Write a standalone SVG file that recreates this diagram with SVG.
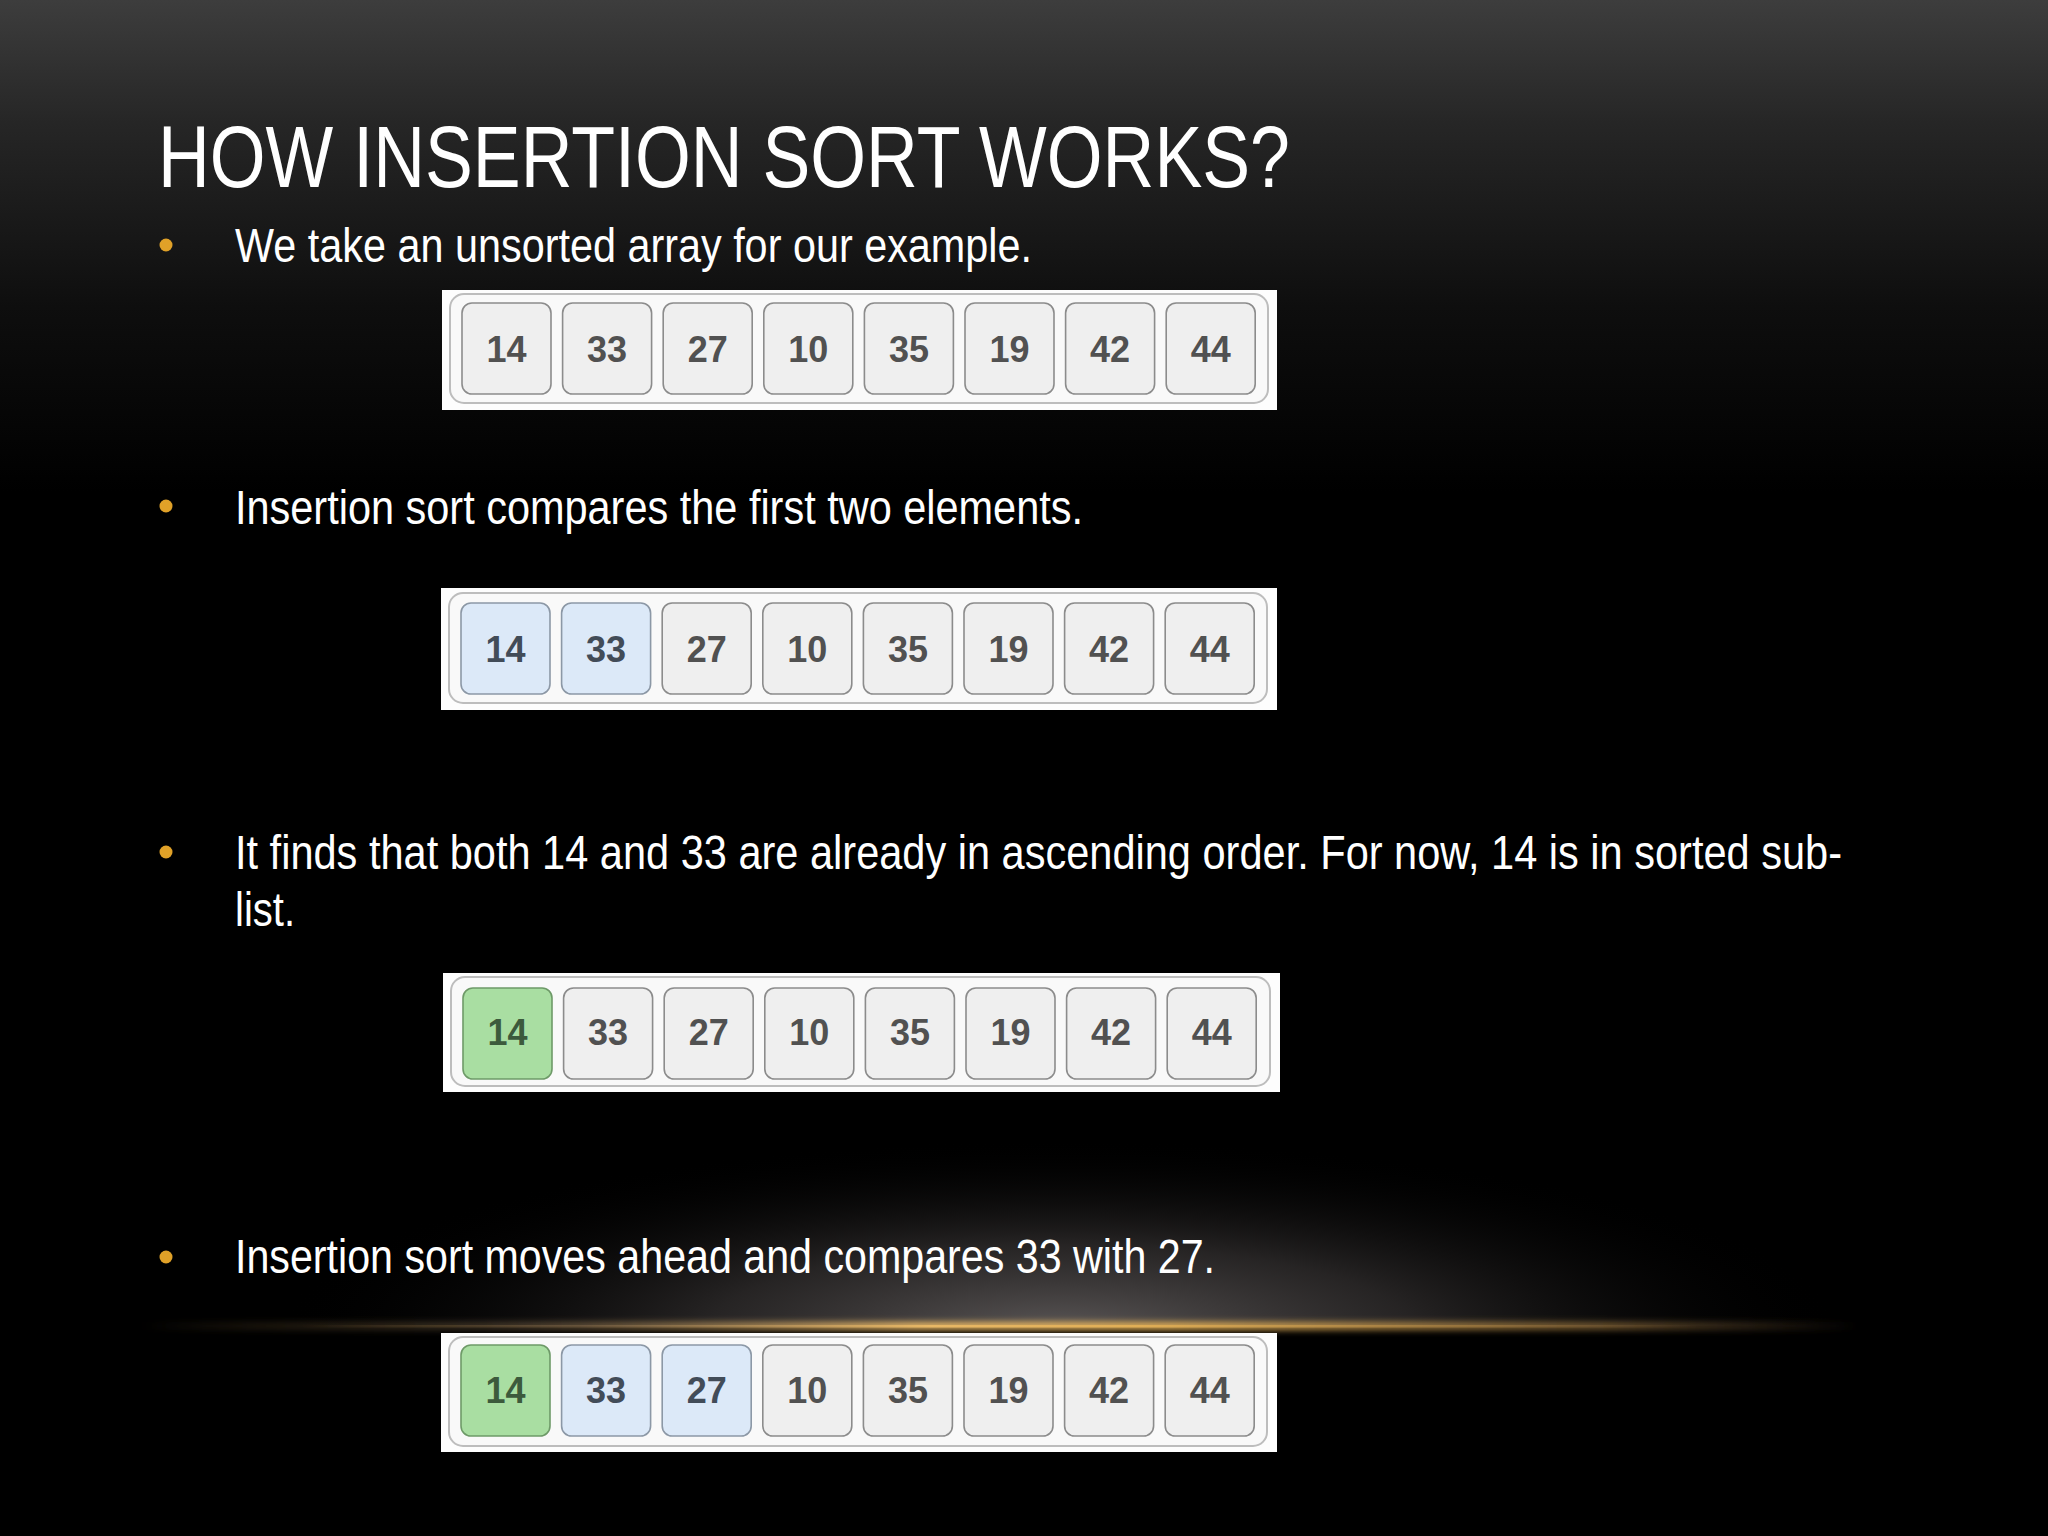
<svg xmlns="http://www.w3.org/2000/svg" width="2048" height="1536" viewBox="0 0 2048 1536">
  <defs>
    <linearGradient id="bg" x1="0" y1="0" x2="0" y2="1">
      <stop offset="0" stop-color="#3d3d3d"/>
      <stop offset="0.08" stop-color="#262626"/>
      <stop offset="0.2" stop-color="#0e0e0e"/>
      <stop offset="0.32" stop-color="#000000"/>
      <stop offset="1" stop-color="#000000"/>
    </linearGradient>
    <radialGradient id="haze" cx="0.5" cy="0.5" r="0.5">
      <stop offset="0" stop-color="#5a5656" stop-opacity="1"/>
      <stop offset="0.45" stop-color="#333030" stop-opacity="0.75"/>
      <stop offset="1" stop-color="#000000" stop-opacity="0"/>
    </radialGradient>
    <linearGradient id="line" x1="0" y1="0" x2="1" y2="0">
      <stop offset="0" stop-color="#c89a50" stop-opacity="0"/>
      <stop offset="0.2" stop-color="#8a7050" stop-opacity="0.4"/>
      <stop offset="0.45" stop-color="#e8b866" stop-opacity="1"/>
      <stop offset="0.6" stop-color="#e0ae56" stop-opacity="1"/>
      <stop offset="0.85" stop-color="#a07a40" stop-opacity="0.65"/>
      <stop offset="1" stop-color="#806040" stop-opacity="0"/>
    </linearGradient>
    <filter id="blur" x="-10%" y="-300%" width="120%" height="700%">
      <feGaussianBlur stdDeviation="3"/>
    </filter>
    <clipPath id="aboveLine">
      <rect x="0" y="0" width="2048" height="1326"/>
    </clipPath>
  </defs>
  <style>
    .title { font-family: "Liberation Sans", Arial, sans-serif; font-size: 87px; fill: #ffffff; }
    .body { font-family: "Liberation Sans", Arial, sans-serif; font-size: 48px; fill: #ffffff; }
    .dot { fill: #e0a128; }
    .frame { fill: #fdfdfd; }
    .inner { fill: #f9f9f9; stroke: #bdbdbd; stroke-width: 2; }
    .cell { fill: #efefef; stroke: #8c8c8c; stroke-width: 1.6; }
    .cell.blue { fill: #dce9f8; stroke: #8c98a6; }
    .cell.green { fill: #a9dea2; stroke: #6e9a68; }
    .num { font-family: "Liberation Sans", Arial, sans-serif; font-size: 36px; font-weight: bold; fill: #515151; text-anchor: middle; }
    .num.g { fill: #3c5a3c; }
    .num.b { fill: #424c58; }
  </style>

  <rect x="0" y="0" width="2048" height="1536" fill="url(#bg)"/>
  <g clip-path="url(#aboveLine)">
    <ellipse cx="1060" cy="1330" rx="780" ry="190" fill="url(#haze)"/>
  </g>
  <rect x="140" y="1322" width="1720" height="8" fill="url(#line)" filter="url(#blur)"/>
  <rect x="300" y="1325" width="1400" height="2.5" fill="url(#line)"/>

  <text class="title" x="158" y="187" textLength="1132" lengthAdjust="spacingAndGlyphs">HOW INSERTION SORT WORKS?</text>

  <g id="bullet1">
    <circle class="dot" cx="166" cy="245" r="6.5"/>
    <text class="body" x="235" y="262" textLength="797" lengthAdjust="spacingAndGlyphs">We take an unsorted array for our example.</text>
  </g>
  <g id="bullet2">
    <circle class="dot" cx="166" cy="506" r="6.5"/>
    <text class="body" x="235" y="524" textLength="848" lengthAdjust="spacingAndGlyphs">Insertion sort compares the first two elements.</text>
  </g>
  <g id="bullet3">
    <circle class="dot" cx="166" cy="852" r="6.5"/>
    <text class="body" x="235" y="869" textLength="1607" lengthAdjust="spacingAndGlyphs">It finds that both 14 and 33 are already in ascending order. For now, 14 is in sorted sub-</text>
    <text class="body" x="235" y="926" textLength="60" lengthAdjust="spacingAndGlyphs">list.</text>
  </g>
  <g id="bullet4">
    <circle class="dot" cx="166" cy="1257" r="6.5"/>
    <text class="body" x="235" y="1273" textLength="980" lengthAdjust="spacingAndGlyphs">Insertion sort moves ahead and compares 33 with 27.</text>
  </g>

  <!-- Array 1 -->
  <g id="array1" transform="translate(442,290)">
    <rect class="frame" x="0" y="0" width="835" height="120"/>
    <rect class="inner" x="8" y="4" width="818" height="109" rx="14"/>
    <g transform="translate(20,13)">
      <rect class="cell" x="0" y="0" width="89" height="91" rx="10"/><text class="num" x="44.5" y="59">14</text>
      <rect class="cell" x="100.6" y="0" width="89" height="91" rx="10"/><text class="num" x="145.1" y="59">33</text>
      <rect class="cell" x="201.2" y="0" width="89" height="91" rx="10"/><text class="num" x="245.7" y="59">27</text>
      <rect class="cell" x="301.8" y="0" width="89" height="91" rx="10"/><text class="num" x="346.3" y="59">10</text>
      <rect class="cell" x="402.4" y="0" width="89" height="91" rx="10"/><text class="num" x="446.9" y="59">35</text>
      <rect class="cell" x="503" y="0" width="89" height="91" rx="10"/><text class="num" x="547.5" y="59">19</text>
      <rect class="cell" x="603.6" y="0" width="89" height="91" rx="10"/><text class="num" x="648.1" y="59">42</text>
      <rect class="cell" x="704.2" y="0" width="89" height="91" rx="10"/><text class="num" x="748.7" y="59">44</text>
    </g>
  </g>

  <!-- Array 2 -->
  <g id="array2" transform="translate(441,588)">
    <rect class="frame" x="0" y="0" width="836" height="122"/>
    <rect class="inner" x="8" y="5" width="818" height="110" rx="14"/>
    <g transform="translate(20,15)">
      <rect class="cell blue" x="0" y="0" width="89" height="91" rx="10"/><text class="num b" x="44.5" y="59">14</text>
      <rect class="cell blue" x="100.6" y="0" width="89" height="91" rx="10"/><text class="num b" x="145.1" y="59">33</text>
      <rect class="cell" x="201.2" y="0" width="89" height="91" rx="10"/><text class="num" x="245.7" y="59">27</text>
      <rect class="cell" x="301.8" y="0" width="89" height="91" rx="10"/><text class="num" x="346.3" y="59">10</text>
      <rect class="cell" x="402.4" y="0" width="89" height="91" rx="10"/><text class="num" x="446.9" y="59">35</text>
      <rect class="cell" x="503" y="0" width="89" height="91" rx="10"/><text class="num" x="547.5" y="59">19</text>
      <rect class="cell" x="603.6" y="0" width="89" height="91" rx="10"/><text class="num" x="648.1" y="59">42</text>
      <rect class="cell" x="704.2" y="0" width="89" height="91" rx="10"/><text class="num" x="748.7" y="59">44</text>
    </g>
  </g>

  <!-- Array 3 -->
  <g id="array3" transform="translate(443,973)">
    <rect class="frame" x="0" y="0" width="837" height="119"/>
    <rect class="inner" x="8" y="4" width="819" height="109" rx="14"/>
    <g transform="translate(20,15)">
      <rect class="cell green" x="0" y="0" width="89" height="91" rx="10"/><text class="num g" x="44.5" y="57">14</text>
      <rect class="cell" x="100.6" y="0" width="89" height="91" rx="10"/><text class="num" x="145.1" y="57">33</text>
      <rect class="cell" x="201.2" y="0" width="89" height="91" rx="10"/><text class="num" x="245.7" y="57">27</text>
      <rect class="cell" x="301.8" y="0" width="89" height="91" rx="10"/><text class="num" x="346.3" y="57">10</text>
      <rect class="cell" x="402.4" y="0" width="89" height="91" rx="10"/><text class="num" x="446.9" y="57">35</text>
      <rect class="cell" x="503" y="0" width="89" height="91" rx="10"/><text class="num" x="547.5" y="57">19</text>
      <rect class="cell" x="603.6" y="0" width="89" height="91" rx="10"/><text class="num" x="648.1" y="57">42</text>
      <rect class="cell" x="704.2" y="0" width="89" height="91" rx="10"/><text class="num" x="748.7" y="57">44</text>
    </g>
  </g>

  <!-- Array 4 -->
  <g id="array4" transform="translate(441,1333)">
    <rect class="frame" x="0" y="0" width="836" height="119"/>
    <rect class="inner" x="8" y="4" width="818" height="109" rx="14"/>
    <g transform="translate(20,12)">
      <rect class="cell green" x="0" y="0" width="89" height="91" rx="10"/><text class="num g" x="44.5" y="58">14</text>
      <rect class="cell blue" x="100.6" y="0" width="89" height="91" rx="10"/><text class="num b" x="145.1" y="58">33</text>
      <rect class="cell blue" x="201.2" y="0" width="89" height="91" rx="10"/><text class="num b" x="245.7" y="58">27</text>
      <rect class="cell" x="301.8" y="0" width="89" height="91" rx="10"/><text class="num" x="346.3" y="58">10</text>
      <rect class="cell" x="402.4" y="0" width="89" height="91" rx="10"/><text class="num" x="446.9" y="58">35</text>
      <rect class="cell" x="503" y="0" width="89" height="91" rx="10"/><text class="num" x="547.5" y="58">19</text>
      <rect class="cell" x="603.6" y="0" width="89" height="91" rx="10"/><text class="num" x="648.1" y="58">42</text>
      <rect class="cell" x="704.2" y="0" width="89" height="91" rx="10"/><text class="num" x="748.7" y="58">44</text>
    </g>
  </g>
</svg>
